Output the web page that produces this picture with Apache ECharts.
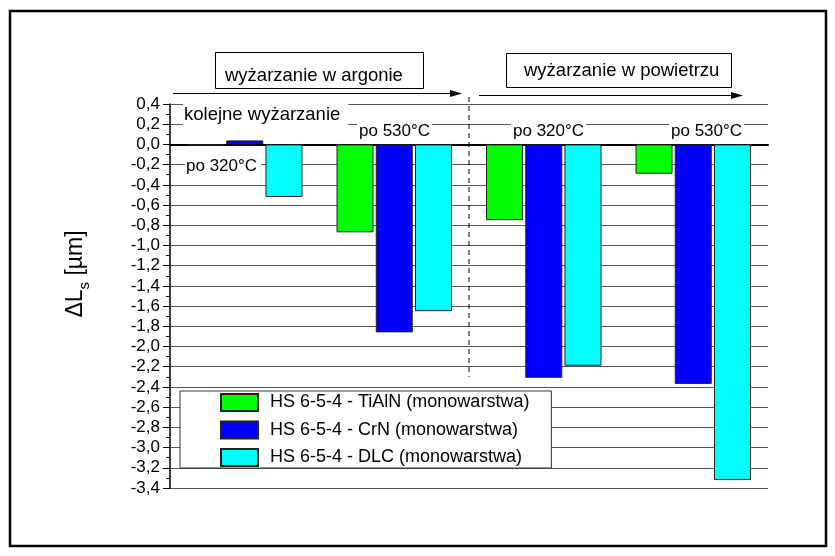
<!DOCTYPE html>
<html><head><meta charset="utf-8">
<script src="https://cdn.jsdelivr.net/npm/echarts@6/dist/echarts.min.js"></script>
<style>html,body{margin:0;padding:0;background:#fff}#c{width:835px;height:556px}</style>
</head><body><div id="c"></div>
<script>
// ---- data ----
const categories = ['argon 320°C', 'argon 530°C', 'powietrze 320°C', 'powietrze 530°C'];
const seriesNames = ['HS 6-5-4 - TiAlN (monowarstwa)', 'HS 6-5-4 - CrN (monowarstwa)', 'HS 6-5-4 - DLC (monowarstwa)'];
const tialn = [-0.01, -0.87, -0.75, -0.29];
const crn = [0.04, -1.86, -2.31, -2.37];
const dlc = [-0.52, -1.65, -2.19, -3.32];
const yMin = -3.4, yMax = 0.4, yStep = 0.2;
const groupTitles = ['wyżarzanie w argonie', 'wyżarzanie w powietrzu'];
const stepLabels = ['po 320°C', 'po 530°C', 'po 320°C', 'po 530°C'];
const sequenceLabel = 'kolejne wyżarzanie';

const FONT = '"Liberation Sans", Arial, sans-serif';
const colors = ['#00FF00', '#0000FF', '#00FFFF'];
const chart = echarts.init(document.getElementById('c'));

const mk = (name, data, color) => ({
  name, type: 'bar', data, barWidth: 37, barGap: '6%',
  itemStyle: { color, borderColor: '#222', borderWidth: 1 },
  emphasis: { disabled: true }
});

chart.setOption({
  animation: false,
  grid: { left: 170, right: 67, top: 104, bottom: 68 },
  xAxis: {
    type: 'category', data: categories,
    axisLine: { onZero: true, lineStyle: { color: '#000', width: 2 } },
    axisTick: { show: false }, axisLabel: { show: false }, splitLine: { show: false }
  },
  yAxis: {
    type: 'value', min: yMin, max: yMax, interval: yStep,
    axisLine: { show: true, lineStyle: { color: '#000', width: 1.5 } },
    axisTick: { show: true, length: 7, lineStyle: { color: '#000', width: 1 } },
    minorTick: { show: true, splitNumber: 2, length: 4, lineStyle: { color: '#000', width: 1 } },
    axisLabel: {
      margin: 10, fontSize: 17, color: '#000', fontFamily: FONT,
      formatter: v => (Math.abs(v) < 1e-9 ? 0 : v).toFixed(1).replace('.', ',')
    },
    splitLine: { show: true, lineStyle: { color: '#555', width: 1 } }
  },
  legend: {
    orient: 'vertical', left: 180, top: 391, icon: 'rect',
    itemWidth: 37, itemHeight: 17, itemGap: 8.5,
    padding: [2, 22, 1, 40], backgroundColor: '#fff', borderColor: '#333', borderWidth: 1,
    selectedMode: false, data: seriesNames,
    textStyle: { fontSize: 18, lineHeight: 17, color: '#000', fontFamily: FONT, padding: [0, 0, 0, 7] }
  },
  series: [mk(seriesNames[0], tialn, colors[0]), mk(seriesNames[1], crn, colors[1]), mk(seriesNames[2], dlc, colors[2])]
});

const yPx = v => chart.convertToPixel({ yAxisIndex: 0 }, v);
const xPx = i => chart.convertToPixel({ xAxisIndex: 0 }, categories[i]);
const boundary = (xPx(1) + xPx(2)) / 2;
const left = xPx(0) - (xPx(1) - xPx(0)) / 2;

const txt = (text, x, y, size, pad, extra) => Object.assign({
  type: 'text', x, y, z: 20, silent: true,
  style: Object.assign({ text, font: size + 'px ' + FONT, fill: '#000', verticalAlign: 'middle', align: 'left',
    backgroundColor: '#fff', padding: pad }, extra || {})
});

const g = [];
// outer frame
g.push({ type: 'rect', z: 30, silent: true, shape: { x: 10, y: 11, width: 816, height: 535 }, style: { fill: 'none', stroke: '#000', lineWidth: 2.5 } });
// group title boxes
g.push({ type: 'rect', z: 20, silent: true, shape: { x: 215.5, y: 52.5, width: 208, height: 36 }, style: { fill: '#fff', stroke: '#000', lineWidth: 1 } });
g.push(txt(groupTitles[0], 225, 76, 18.5, 0, { backgroundColor: null }));
g.push({ type: 'rect', z: 20, silent: true, shape: { x: 506.5, y: 53.5, width: 225, height: 34 }, style: { fill: '#fff', stroke: '#000', lineWidth: 1 } });
g.push(txt(groupTitles[1], 524, 71, 18.5, 0, { backgroundColor: null }));
// arrows
const ay1 = 93.5, ay2 = 95.5;
g.push({ type: 'line', z: 20, silent: true, shape: { x1: left + 3, y1: ay1, x2: boundary - 16, y2: ay1 }, style: { stroke: '#000', lineWidth: 1 } });
g.push({ type: 'polygon', z: 20, silent: true, shape: { points: [[boundary - 19, ay1 - 3.5], [boundary - 7, ay1], [boundary - 19, ay1 + 3.5]] }, style: { fill: '#000' } });
g.push({ type: 'line', z: 20, silent: true, shape: { x1: boundary + 10, y1: ay2, x2: 733, y2: ay2 }, style: { stroke: '#000', lineWidth: 1 } });
g.push({ type: 'polygon', z: 20, silent: true, shape: { points: [[731, ay2 - 3.5], [743, ay2], [731, ay2 + 3.5]] }, style: { fill: '#000' } });
// dashed separator
g.push({ type: 'line', z: 20, silent: true, shape: { x1: boundary, y1: 97, x2: boundary, y2: yPx(-2.3) }, style: { stroke: '#000', lineWidth: 1, lineDash: [5, 4] } });
// labels
g.push(txt(sequenceLabel, left + 13, yPx(0.3) + 1, 18.5, [6, 8, 6, 1]));
g.push(txt(stepLabels[0], left + 15, yPx(-0.22), 17, [2, 4, 2, 1]));
g.push(txt(stepLabels[1], 357, yPx(0.2) + 7, 17, [3, 2, 3, 2]));
g.push(txt(stepLabels[2], 511, yPx(0.2) + 7, 17, [3, 2, 3, 2]));
g.push(txt(stepLabels[3], 669, yPx(0.2) + 7, 17, [3, 2, 3, 2]));
// y axis title
g.push({
  type: 'text', x: 76, y: 274, rotation: Math.PI / 2, z: 20, silent: true,
  style: {
    text: '{a|ΔL}{b|s}{a| [µm]}', align: 'center', verticalAlign: 'middle', fill: '#000',
    rich: {
      a: { fontSize: 23, fontFamily: FONT, lineHeight: 32, verticalAlign: 'middle', fill: '#000' },
      b: { fontSize: 15, fontFamily: FONT, lineHeight: 32, verticalAlign: 'bottom', fill: '#000' }
    }
  }
});
chart.setOption({ graphic: g });
</script></body></html>
